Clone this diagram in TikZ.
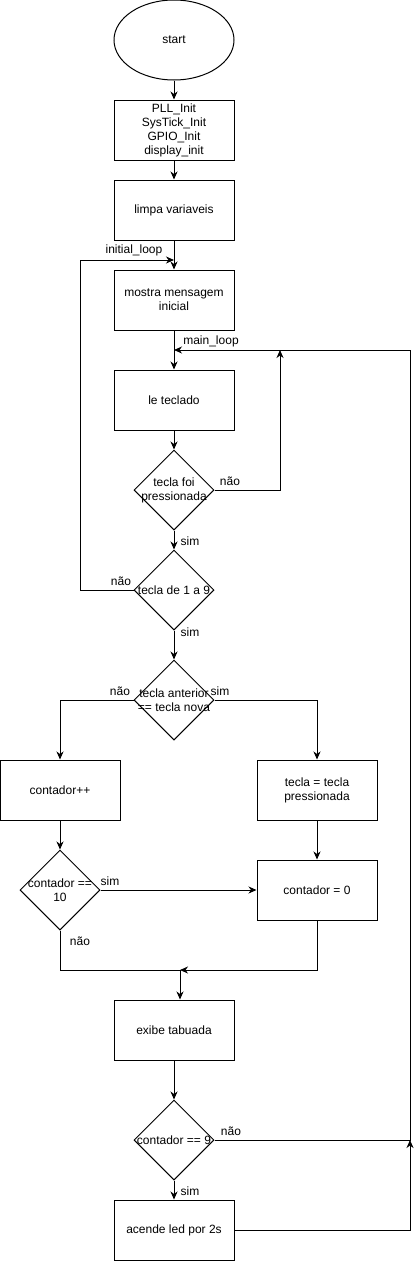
\documentclass[tikz,border=0pt]{standalone}
\usepackage{fontspec}
\setmainfont{Liberation Sans}
\usetikzlibrary{arrows.meta, shapes.geometric}

\tikzset{
	terminal/.style={ellipse, draw, minimum width=120pt, minimum height=80pt, inner sep=0pt},
	process/.style={rectangle, draw, minimum width=120pt, minimum height=60pt, align=center, inner sep=0pt},
	decision/.style={diamond, draw, minimum width=80pt, minimum height=80pt, inner sep=0pt},
	lbl/.style={inner sep=0pt}
}

\begin{document}
\begin{tikzpicture}[x=1pt, y=-1pt, line width=1pt, >={Stealth[length=8pt,width=7pt,inset=2.5pt]}, font=\fontsize{12}{14}\selectfont]
			\useasboundingbox (0,0) rectangle (419,1261);
			% blocos
			\node [terminal] (start) at (174,40) {start};
			\node [process] (init) at (174,130) {PLL\_Init\\SysTick\_Init\\GPIO\_Init\\display\_init};
			\node [process] (limpa) at (174,210) {limpa variaveis};
			\node [process] (mostra) at (174,300) {mostra mensagem\\inicial};
			\node [process] (le) at (174,400) {le teclado};
			\node [decision, label={[align=center]center:tecla foi\\pressionada}] (foi) at (174,490) {};
			\node [decision, label={[align=center]center:tecla de 1 a 9}] (faixa) at (174,590) {};
			\node [decision, label={[align=center]center:tecla anterior\\== tecla nova}] (anterior) at (174,700) {};
			\node [process] (incr) at (60,790) {contador++};
			\node [process] (atrib) at (317,790) {tecla = tecla\\pressionada};
			\node [decision, label={[align=center]center:contador ==\\10}] (dez) at (60,890) {};
			\node [process] (zera) at (317,890) {contador = 0};
			\node [process] (tabuada) at (174,1030) {exibe tabuada};
			\node [decision, label={[align=center]center:contador == 9}] (nove) at (174,1140) {};
			\node [process] (led) at (174,1230) {acende led por 2s};
			% rotulos
			\node [lbl] (iniloopt) at (134,250) {initial\_loop};
			\node [lbl] (mainloopt) at (211,341) {main\_loop};
			\node [lbl] (foinao) at (230,481) {não};
			\node [lbl] (foisim) at (190,541) {sim};
			\node [lbl] (faixanao) at (121,581) {não};
			\node [lbl] (faixasim) at (190,632) {sim};
			\node [lbl] (antnao) at (120,691) {não};
			\node [lbl] (antsim) at (220,691) {sim};
			\node [lbl] (dezsim) at (110,881) {sim};
			\node [lbl] (deznao) at (80,941) {não};
			\node [lbl] (novenao) at (231,1131) {não};
			\node [lbl] (novesim) at (190,1191) {sim};
			% pontos dos lacos
			\coordinate (iniloop) at (174,260);
			\coordinate (mainloop) at (174,350);
			\coordinate (junta) at (180,970);
			\coordinate (retorno) at (410,1140);
			% ligacoes
			\draw [->] (start) -- (init);
			\draw [->] (init) -- (limpa);
			\draw [->] (limpa) -- (mostra);
			\draw [->] (mostra) -- (le);
			\draw [->] (le) -- (foi);
			\draw [->] (foi.east) -- (280,490) -- (280,350);
			\draw [->] (foi) -- (faixa);
			\draw [->] (faixa.west) -- (80,590) -- (80,260) -- (iniloop);
			\draw [->] (faixa) -- (anterior);
			\draw [->] (anterior.west) -| (incr.north);
			\draw [->] (anterior.east) -| (atrib.north);
			\draw [->] (incr) -- (dez);
			\draw [->] (atrib) -- (zera);
			\draw [->] (dez) -- (zera);
			\draw (dez.south) |- (junta);
			\draw [->] (zera.south) |- (junta);
			\draw [->] (junta) -- (junta |- tabuada.north);
			\draw [->] (tabuada) -- (nove);
			\draw [->] (nove) -- (led);
			\draw [->] (nove.east) -- (retorno) |- (mainloop);
			\draw [->] (led.east) -| (retorno);
\end{tikzpicture}
\end{document}
